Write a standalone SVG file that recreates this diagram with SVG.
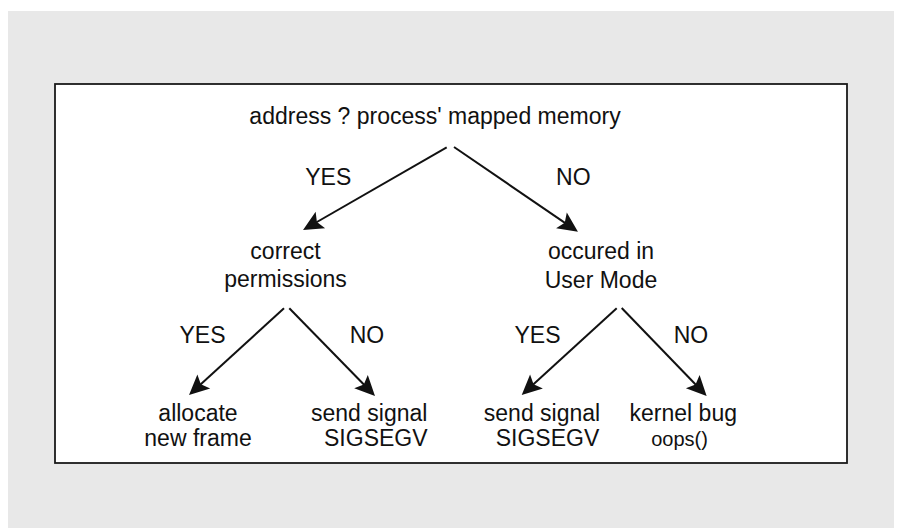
<svg xmlns="http://www.w3.org/2000/svg" width="900" height="528" viewBox="0 0 900 528">
  <style>
    .t { font-family: "Liberation Sans", Arial, sans-serif; font-size: 23px; fill: #111; text-anchor: middle; }
    .small { font-size: 20px; }
    .edge { stroke: #111; stroke-width: 2; fill: none; marker-end: url(#arrow); }
  </style>
  <defs>
    <marker id="arrow" markerUnits="userSpaceOnUse" markerWidth="40" markerHeight="40" refX="0" refY="0" orient="auto" overflow="visible">
      <path d="M10,0 L-10,-9.5 L-6,0 L-10,9.5 Z" fill="#111"/>
    </marker>
  </defs>
  <rect x="0" y="0" width="900" height="528" fill="#ffffff"/>
  <rect x="8" y="11" width="886" height="517" fill="#e8e8e8"/>
  <rect id="frame" x="55" y="84" width="792" height="379" fill="#ffffff" stroke="#1a1a1a" stroke-width="1.8"/>

  <g id="connectors">
    <line class="edge" x1="446.7" y1="147.3" x2="311.7" y2="225.0"/>
    <line class="edge" x1="454" y1="147" x2="569.7" y2="226.1"/>
    <line class="edge" x1="284" y1="308.3" x2="196.4" y2="388.3"/>
    <line class="edge" x1="289.3" y1="308.3" x2="368.0" y2="388.8"/>
    <line class="edge" x1="616.7" y1="308.3" x2="529.1" y2="388.3"/>
    <line class="edge" x1="621.7" y1="308" x2="699.7" y2="388.8"/>
  </g>

  <g id="edge-labels">
    <text class="t" x="328.3" y="185">YES</text>
    <text class="t" x="573.3" y="185">NO</text>
    <text class="t" x="202.5" y="342.7">YES</text>
    <text class="t" x="367" y="342.7">NO</text>
    <text class="t" x="537.5" y="342.7">YES</text>
    <text class="t" x="691" y="342.7">NO</text>
  </g>

  <g id="root">
    <text class="t" x="435" y="124">address ? process' mapped memory</text>
  </g>
  <g id="permissions">
    <text class="t" x="285.5" y="258.5">correct</text>
    <text class="t" x="285.5" y="286.5">permissions</text>
  </g>
  <g id="usermode">
    <text class="t" x="601" y="259">occured in</text>
    <text class="t" x="601" y="287.5">User Mode</text>
  </g>
  <g id="allocate">
    <text class="t" x="198" y="421">allocate</text>
    <text class="t" x="198" y="446">new frame</text>
  </g>
  <g id="sigsegv-left">
    <text class="t" x="369.2" y="421">send signal</text>
    <text class="t" x="375.8" y="446">SIGSEGV</text>
  </g>
  <g id="sigsegv-right">
    <text class="t" x="542" y="421">send signal</text>
    <text class="t" x="547.5" y="446">SIGSEGV</text>
  </g>
  <g id="kernelbug">
    <text class="t" x="683.3" y="421">kernel bug</text>
    <text class="t small" x="679.5" y="446">oops()</text>
  </g>
</svg>
